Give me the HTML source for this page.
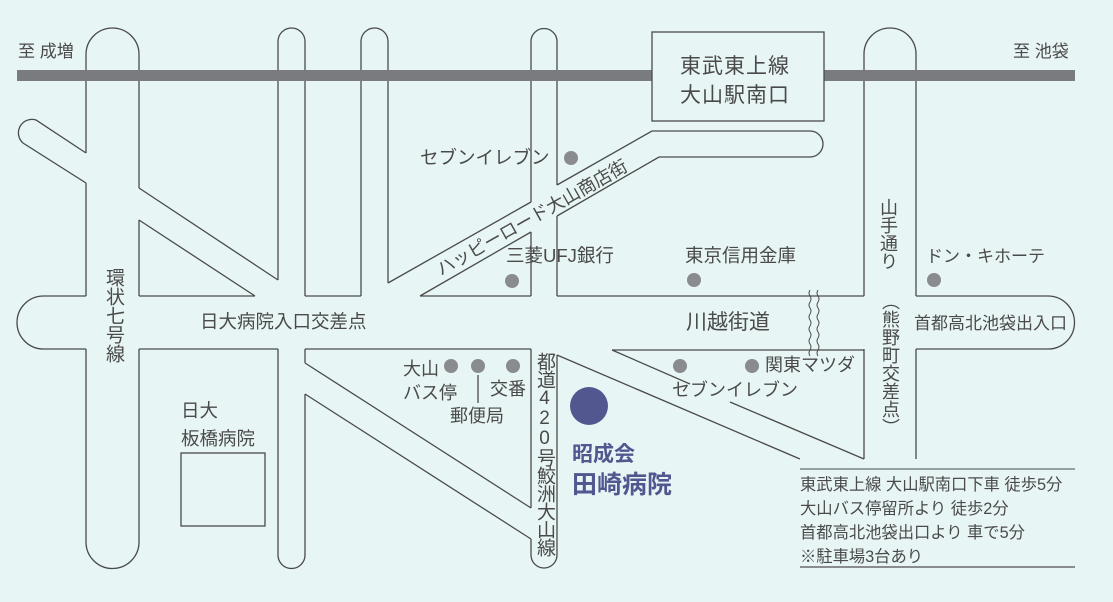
<!DOCTYPE html>
<html><head><meta charset="utf-8"><style>
body{margin:0;background:#e8f5f5;}
#w{position:relative;width:1113px;height:602px;overflow:hidden;background:#e8f5f5;font-family:"Liberation Sans","Noto Sans CJK JP",sans-serif;color:#4a4a4a;}
svg{position:absolute;left:0;top:0;}
.t{position:absolute;white-space:nowrap;line-height:1;}
.v{writing-mode:vertical-rl;text-orientation:upright;}
</style></head><body><div id="w">
<svg width="1113" height="602" viewBox="0 0 1113 602">
<g fill="none" stroke="#4a4a4a" stroke-width="1.3">
<path d="M86,153 V54.5 A26.5 26.5 0 0 1 139 54.5 V188"/>
<path d="M86,183 V296 M139,220 V296"/>
<path d="M86,349 V542 A26.5 26.5 0 0 0 139 542 V349"/>
<path d="M86,153 L36,120 A13.5 13.5 0 0 0 23 143 L86,183"/>
<path d="M139,188 L278,280 M139,220 L255,296"/>
<path d="M278,280 V41.5 A13.5 13.5 0 0 1 305 41.5 V296"/>
<path d="M278,349 V555 A13.5 13.5 0 0 0 305 555 V394 M305,349 V363"/>
<path d="M361,296 V41.5 A13.5 13.5 0 0 1 388 41.5 V283"/>
<path d="M531,202 V41.5 A13 13 0 0 1 557 41.5 V185"/>
<path d="M531,232 V296 M557,216 V296"/>
<path d="M531,349 V508 M531,539 V555 A13 13 0 0 0 557 555 V355"/>
<path d="M864,296 V54 A26 26 0 0 1 916 54 V296"/>
<path d="M864,349 V459 M916,349 V459"/>
<path d="M388,283 L531,202 M420,296 L531,232"/>
<path d="M557,185 L652,131 H810 A13 13 0 0 1 810 157 H659 L557,216"/>
<path d="M305,363 L531,508 M305,394 L531,539"/>
<path d="M557,355 L800,459"/>
<path d="M612,350 L690,384 M730,402 L864,459 M612,350 H864"/>
<path d="M86,296 H43.5 A26.5 26.5 0 0 0 43.5 349 H86"/>
<path d="M139,296 H255 M305,296 H361 M420,296 H531 M557,296 H864"/>
<path d="M916,296 H1048 A26.5 26.5 0 0 1 1048 349 H916"/>
<path d="M139,349 H278 M305,349 H531"/>
<path d="M810,290 q-2,3 0,6 q2,3 0,6 q-2,3 0,6 q2,3 0,6 q-2,3 0,6 q2,3 0,6 q-2,3 0,6 q2,3 0,6 q-2,3 0,6 q2,3 0,6 q-2,3 0,6" stroke-width="1"/>
<path d="M818,290 q-2,3 0,6 q2,3 0,6 q-2,3 0,6 q2,3 0,6 q-2,3 0,6 q2,3 0,6 q-2,3 0,6 q2,3 0,6 q-2,3 0,6 q2,3 0,6 q-2,3 0,6" stroke-width="1"/>
<rect x="181" y="453" width="84" height="73"/>
<path d="M478,375 V403"/>
<path d="M800,469 H1075" stroke-width="1"/>
</g>
<rect x="17" y="70" width="1058" height="11" fill="#7a7b7e"/>
<rect x="652" y="32" width="172" height="89" fill="#e8f5f5" stroke="#4a4a4a" stroke-width="1.3"/>
<path d="M800,567 H1075" stroke="#8a8b8e" stroke-width="2"/>
<g fill="#8a8b8e">
<circle cx="571" cy="158" r="7"/><circle cx="512" cy="281" r="7"/><circle cx="694" cy="280" r="7"/><circle cx="934" cy="280" r="7"/>
<circle cx="451" cy="366" r="7"/><circle cx="478" cy="366" r="7"/><circle cx="513" cy="366" r="7"/>
<circle cx="680" cy="366" r="7"/><circle cx="752" cy="366" r="7"/>
</g>
<circle cx="589" cy="406" r="19" fill="#52578f"/>
</svg>
<div class="t" style="left:18px;top:43px;font-size:17px">至 成増</div>
<div class="t" style="left:1013px;top:43px;font-size:17px">至 池袋</div>
<div class="t" style="left:680px;top:52px;font-size:21px;line-height:29px;letter-spacing:1px">東武東上線<br>大山駅南口</div>
<div class="t" style="left:420px;top:149px;font-size:18.5px">セブンイレブン</div>
<div class="t" style="left:506px;top:247px;font-size:18.5px">三菱UFJ銀行</div>
<div class="t" style="left:685px;top:247px;font-size:18.5px">東京信用金庫</div>
<div class="t" style="left:926px;top:248px;font-size:17px">ドン・キホーテ</div>
<div class="t" style="left:438px;top:262px;font-size:18px;transform:rotate(-29.5deg);transform-origin:0 50%">ハッピーロード大山商店街</div>
<div class="t v" style="left:879px;top:198px;font-size:18px">山手通り</div>
<div class="t v" style="left:879px;top:292px;font-size:18px;line-height:22px">（熊野町交差点）</div>
<div class="t v" style="left:102px;top:268px;font-size:19px;line-height:22px">環状七号線</div>
<div class="t" style="left:200px;top:313px;font-size:18.5px">日大病院入口交差点</div>
<div class="t" style="left:686px;top:312px;font-size:21px">川越街道</div>
<div class="t" style="left:914px;top:315px;font-size:17px">首都高北池袋出入口</div>
<div class="t" style="left:403px;top:357px;font-size:18px;line-height:24px">大山<br>バス停</div>
<div class="t" style="left:490px;top:380px;font-size:18px">交番</div>
<div class="t" style="left:450px;top:407px;font-size:18px">郵便局</div>
<div class="t v" style="left:534px;top:352px;font-size:19px;line-height:20px;letter-spacing:-1px">都道420号鮫洲大山線</div>
<div class="t" style="left:181px;top:397px;font-size:18.5px;line-height:28px">日大<br>板橋病院</div>
<div class="t" style="left:765px;top:356px;font-size:18px">関東マツダ</div>
<div class="t" style="left:672px;top:381px;font-size:18px">セブンイレブン</div>
<div class="t" style="left:572px;top:440px;font-size:21px;font-weight:bold;color:#52578f;line-height:30px">昭成会<br><span style="font-size:25px">田崎病院</span></div>
<div class="t" style="left:800px;top:473px;font-size:16.3px;line-height:24px">東武東上線 大山駅南口下車 徒歩5分<br>大山バス停留所より 徒歩2分<br>首都高北池袋出口より 車で5分<br>※駐車場3台あり</div>
</div></body></html>
